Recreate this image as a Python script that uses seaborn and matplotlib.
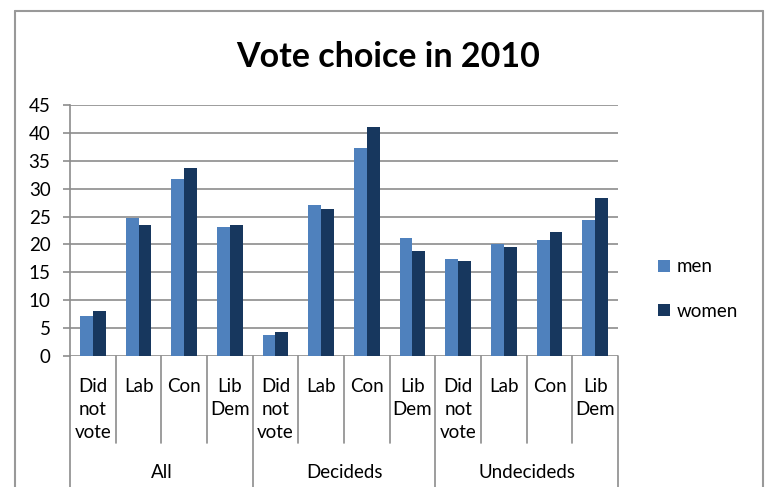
import matplotlib
matplotlib.use("Agg")
import matplotlib.pyplot as plt
import seaborn as sns
import pandas as pd
from matplotlib.lines import Line2D
from matplotlib.patches import Patch

groups = ["All", "Decideds", "Undecideds"]
choices = ["Did\nnot\nvote", "Lab", "Con", "Lib\nDem"]
men = [7.1, 24.7, 31.7, 23.1, 3.8, 27.0, 37.3, 21.2, 17.4, 20.1, 20.8, 24.3]
women = [8.0, 23.5, 33.7, 23.5, 4.3, 26.3, 41.0, 18.9, 17.1, 19.6, 22.2, 28.4]
series = ["men", "women"]
colors = ["#4F81BD", "#17375E"]
title = "Vote choice in 2010"

keys = [f"{g}|{c}" for g in groups for c in choices]
rows = []
for k, m, w in zip(keys, men, women):
    rows.append({"key": k, "sex": "men", "value": m})
    rows.append({"key": k, "sex": "women", "value": w})
df = pd.DataFrame(rows)

sns.set_style("white")
FONT = ["Lato", "DejaVu Sans"]
plt.rcParams["font.family"] = FONT
plt.rcParams["text.color"] = "black"

W, H = 769, 487
fig = plt.figure(figsize=(W / 100, H / 100), dpi=100)
x0, x1, yb, yt = 70, 618, 356, 105
ax = fig.add_axes([x0 / W, 1 - yb / H, (x1 - x0) / W, (yb - yt) / H])

sns.barplot(data=df, x="key", y="value", hue="sex", order=keys, hue_order=series,
            palette=colors, width=0.56, gap=0, linewidth=0, saturation=1,
            ax=ax, legend=False)

ax.set_ylim(0, 45)
ax.set_xlim(-0.5, len(keys) - 0.5)
ax.set_yticks(range(0, 46, 5))
ax.yaxis.grid(True, color="#8c8c8c", linewidth=1.2)
ax.set_axisbelow(True)
for s in ["top", "right", "bottom"]:
    ax.spines[s].set_visible(False)
ax.spines["left"].set_color("#8c8c8c")
ax.spines["left"].set_linewidth(1.2)
ax.tick_params(axis="y", left=True, length=5, width=1.2, color="#8c8c8c",
               pad=9, labelsize=13.5, labelcolor="#000000")
ax.tick_params(axis="x", bottom=False, labelbottom=False)
ax.set_xlabel("")
ax.set_ylabel("")

trans = ax.get_xaxis_transform()
axh = yb - yt
def fy(py):
    return -(py - yb) / axh

# inner separators
for i in range(len(keys) + 1):
    bottom = fy(487) if i % 4 == 0 else fy(443)
    ax.add_artist(Line2D([i - 0.5, i - 0.5], [0, bottom], transform=trans,
                         color="#8c8c8c", linewidth=1.2, clip_on=False))
# category labels
for i, k in enumerate(keys):
    lab = k.split("|")[1]
    ax.text(i, fy(378), lab, transform=trans, ha="center", va="top",
            fontsize=13.5, linespacing=1.44, clip_on=False)
for gi, g in enumerate(groups):
    ax.text(gi * 4 + 1.5, fy(472), g, transform=trans, ha="center",
            va="center", fontsize=13.5, clip_on=False)

fig.text(388 / W, 1 - 57 / H, title, ha="center", va="center",
         fontsize=24.5, fontweight="bold")

# legend
handles = [Patch(facecolor=c, edgecolor="none") for c in colors]
fig.legend(handles, series, loc="center left",
           bbox_to_anchor=(641 / W, 1 - 289 / H), frameon=False,
           fontsize=13.5, handlelength=0.62, handleheight=0.62,
           handletextpad=0.4, labelspacing=1.45)

# chart border
bc = "#999999"
fig.add_artist(Line2D([15 / W, 15 / W], [0, 1 - 11 / H], color=bc, linewidth=1.5))
fig.add_artist(Line2D([15 / W, 763 / W], [1 - 11 / H, 1 - 11 / H], color=bc, linewidth=1.5))
fig.add_artist(Line2D([763 / W, 763 / W], [0, 1 - 11 / H], color=bc, linewidth=1.5))

fig.savefig("out.png", dpi=100)
